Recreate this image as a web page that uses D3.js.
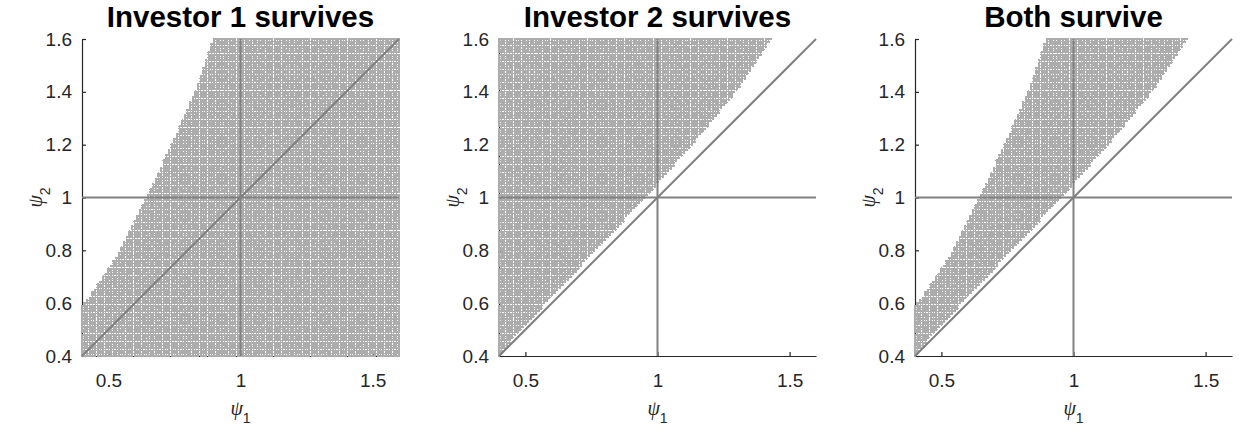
<!DOCTYPE html>
<html>
<head>
<meta charset="utf-8">
<script src="https://cdn.jsdelivr.net/npm/d3@7"></script>
<style>
  body { margin: 0; background: #fff; }
  svg { display: block; }
  text { font-family: "Liberation Sans", Arial, Helvetica, sans-serif; }
</style>
</head>
<body>
<svg id="chart" width="1241" height="434"></svg>
<script>
// Parameter grid for (psi1, psi2)
const psiMin = 0.4;
const psiMax = 1.6;
const psiStep = 0.01;

// Tick labels
const xTicks = [0.5, 1, 1.5];
const yTicks = [0.4, 0.6, 0.8, 1.0, 1.2, 1.4, 1.6];

const panelTitles = ["Investor 1 survives", "Investor 2 survives", "Both survive"];

// Investor 1 survives when psi1 is at least this value (given psi2)
const inv1Psi2 = [0.40, 0.59, 0.614, 0.80, 1.00, 1.20, 1.40, 1.60];
const inv1MinPsi1 = [0.35, 0.39, 0.423, 0.543, 0.644, 0.738, 0.827, 0.896];

// Investor 2 survives when psi1 is at most this value (given psi2)
const inv2Psi2 = [0.40, 0.475, 0.601, 0.79, 1.00, 1.233, 1.42, 1.60];
const inv2MaxPsi1 = [0.405, 0.461, 0.58, 0.757, 0.955, 1.161, 1.313, 1.43];

// Layout
const panelLeft = [82, 499, 915];
const plotW = 317, plotH = 317, plotTop = 39;
const dotColor = "#acacac";
const refColor = "#808080";
const axisColor = "#262626";

const svg = d3.select("#chart");

const nGrid = Math.round((psiMax - psiMin) / psiStep) + 1;
const grid = d3.range(nGrid).map(i => +(psiMin + i * psiStep).toFixed(2));

const inv1Edge = d3.scaleLinear().domain(inv1Psi2).range(inv1MinPsi1).clamp(true);
const inv2Edge = d3.scaleLinear().domain(inv2Psi2).range(inv2MaxPsi1).clamp(true);

const rules = [
  (p1, p2) => p1 >= inv1Edge(p2) - 1e-9,
  (p1, p2) => p1 <= inv2Edge(p2) + 1e-9,
  (p1, p2) => p1 >= inv1Edge(p2) - 1e-9 && p1 <= inv2Edge(p2) + 1e-9
];

panelTitles.forEach((title, k) => {
  const x = d3.scaleLinear().domain([psiMin, psiMax]).range([0, plotW]);
  const y = d3.scaleLinear().domain([psiMin, psiMax]).range([plotH, 0]);

  const g = svg.append("g")
    .attr("transform", `translate(${panelLeft[k]},${plotTop})`);

  // axes (drawn beneath the scatter)
  const yAxis = d3.axisLeft(y).tickValues(yTicks).tickFormat(d => String(+d))
    .tickSizeInner(-4).tickSizeOuter(0).tickPadding(10);
  const xAxis = d3.axisBottom(x).tickValues(xTicks).tickFormat(d => String(+d))
    .tickSizeInner(-4).tickSizeOuter(0).tickPadding(18);

  const ya = g.append("g").call(yAxis);
  const xa = g.append("g").attr("transform", `translate(0,${plotH})`).call(xAxis);
  [ya, xa].forEach(a => {
    a.select(".domain").attr("stroke", axisColor).attr("stroke-width", 1.2);
    a.selectAll(".tick line").attr("stroke", axisColor).attr("stroke-width", 1.2);
    a.selectAll(".tick text").attr("fill", axisColor)
      .style("font-size", "19px")
      .style("font-family", "'Liberation Sans', Arial, sans-serif");
  });

  // surviving parameter pairs
  const pts = [];
  grid.forEach(p2 => grid.forEach(p1 => { if (rules[k](p1, p2)) pts.push([p1, p2]); }));
  g.append("g").attr("shape-rendering", "crispEdges")
    .selectAll("circle").data(pts).join("circle")
    .attr("cx", d => x(d[0]))
    .attr("cy", d => y(d[1]))
    .attr("r", 1.45)
    .attr("fill", dotColor);

  // reference lines: psi1 = 1, psi2 = 1, psi1 = psi2
  const refs = [
    [[1, psiMin], [1, psiMax]],
    [[psiMin, 1], [psiMax, 1]],
    [[psiMin, psiMin], [psiMax, psiMax]]
  ];
  g.append("g").selectAll("line").data(refs).join("line")
    .attr("x1", d => x(d[0][0])).attr("y1", d => y(d[0][1]))
    .attr("x2", d => x(d[1][0])).attr("y2", d => y(d[1][1]))
    .attr("stroke", refColor).attr("stroke-width", 2);

  // title
  g.append("text")
    .attr("x", plotW / 2).attr("y", -12)
    .attr("text-anchor", "middle")
    .style("font-size", "29.5px").style("font-weight", "bold")
    .attr("fill", "#000")
    .text(title);

  // x label: psi_1
  const xl = g.append("text")
    .attr("x", plotW / 2).attr("y", plotH + 59)
    .attr("text-anchor", "middle").attr("fill", axisColor);
  xl.append("tspan").style("font-family", "'Liberation Serif', 'DejaVu Serif', serif")
    .style("font-style", "italic").style("font-size", "20px").text("ψ");
  xl.append("tspan").attr("dy", 8).style("font-size", "14px").text("1");

  // y label: psi_2
  const yl = g.append("text")
    .attr("transform", `translate(-40,${plotH / 2}) rotate(-90)`)
    .attr("text-anchor", "middle").attr("fill", axisColor);
  yl.append("tspan").style("font-family", "'Liberation Serif', 'DejaVu Serif', serif")
    .style("font-style", "italic").style("font-size", "20px").text("ψ");
  yl.append("tspan").attr("dy", 8).style("font-size", "14px").text("2");
});
</script>
</body>
</html>
